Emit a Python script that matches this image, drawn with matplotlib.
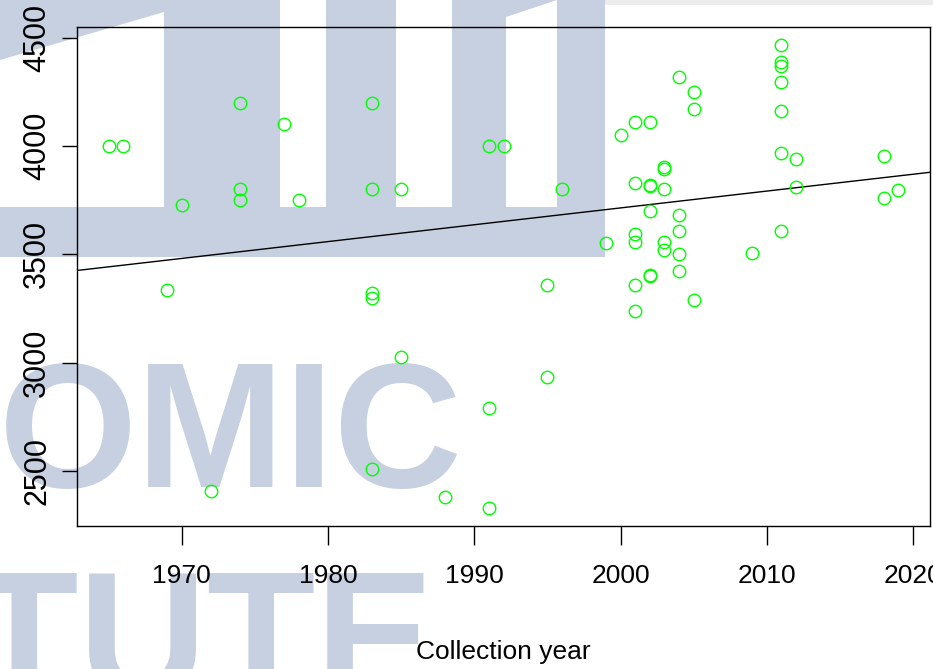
import matplotlib
matplotlib.use("Agg")
import matplotlib.pyplot as plt
from matplotlib.patches import Polygon, Rectangle
import numpy as np

# collection year and value
years = [1965, 1966, 1969, 1970, 1972,
         1974, 1974, 1974, 1977, 1978,
         1983, 1983, 1983, 1983, 1983,
         1985, 1985, 1988, 1991, 1991, 1991, 1992,
         1995, 1995, 1996, 1999, 2000,
         2001, 2001, 2001, 2001, 2001, 2001,
         2002, 2002, 2002, 2002, 2002, 2002,
         2003, 2003, 2003, 2003, 2003,
         2004, 2004, 2004, 2004, 2004,
         2005, 2005, 2005, 2009,
         2011, 2011, 2011, 2011, 2011, 2011, 2011,
         2012, 2012, 2018, 2018, 2019]
values = [4000, 4000, 3335, 3730, 2405,
          4200, 3800, 3750, 4100, 3750,
          4200, 3800, 3320, 3300, 2510,
          3800, 3025, 2380, 4000, 2790, 2330, 4000,
          3360, 2935, 3800, 3550, 4050,
          4110, 3830, 3595, 3555, 3360, 3240,
          4110, 3820, 3815, 3700, 3405, 3400,
          3905, 3895, 3800, 3555, 3520,
          4320, 3680, 3610, 3500, 3425,
          4250, 4170, 3290, 3505,
          4465, 4390, 4370, 4295, 4160, 3970, 3610,
          3940, 3810, 3955, 3760, 3795]

# trend line (abline): value at two years
trend_years = [1970, 2020]
trend_values = [3481, 3870]

x_ticks = [1970, 1980, 1990, 2000, 2010, 2020]
y_ticks = [2500, 3000, 3500, 4000, 4500]

W, H = 933, 669
wm_color = "#c6d0e1"


def px(x, y):
    # pixel position (from top-left) to figure fraction
    return (x / W, 1 - y / H)


def add_poly(fig, pts, color):
    p = Polygon([px(a, b) for a, b in pts], closed=True, transform=fig.transFigure,
                facecolor=color, edgecolor="none", zorder=-5)
    fig.add_artist(p)


def watermark(fig):
    fig.add_artist(Rectangle(px(605, 5), (W - 605) / W, 5 / H, transform=fig.transFigure,
                             facecolor="#ececec", edgecolor="none", zorder=-5))
    add_poly(fig, [(0, 0), (164, 0), (164, 12), (0, 60)], wm_color)
    for x0, x1 in [(164, 280), (326, 396), (452, 506), (557, 605)]:
        add_poly(fig, [(x0, 0), (x1, 0), (x1, 207), (x0, 207)], wm_color)
    add_poly(fig, [(506, 0), (557, 0), (506, 17)], wm_color)
    add_poly(fig, [(0, 207), (605, 207), (605, 257), (0, 257)], wm_color)
    fig.text(*px(-1, 487), "OMIC", fontsize=128, fontweight="bold", color=wm_color,
             family="Liberation Sans", ha="left", va="baseline", zorder=-5)
    fig.text(*px(-30, 696), "TUTE", fontsize=128, fontweight="bold", color=wm_color,
             family="Liberation Sans", ha="left", va="baseline", zorder=-5)


def plot_scatter(x, y):
    fig = plt.figure(figsize=(W / 100, H / 100), dpi=100)
    fig.patch.set_facecolor("white")
    watermark(fig)

    ax = fig.add_axes([77 / W, (H - 526) / H, (930 - 77) / W, (526 - 27) / H])
    ax.patch.set_alpha(0)

    x = np.array(x, dtype=float)
    y = np.array(y, dtype=float)
    ax.plot(x, y, "o", markerfacecolor="none", markeredgecolor="#00ff00",
            markersize=9, markeredgewidth=1.0, zorder=3)

    # 4% padding like base R plots
    xr = x.max() - x.min()
    yr = y.max() - y.min()
    ax.set_xlim(x.min() - 0.04 * xr, x.max() + 0.04 * xr)
    ax.set_ylim(y.min() - 0.04 * yr, y.max() + 0.04 * yr)

    slope = (trend_values[1] - trend_values[0]) / (trend_years[1] - trend_years[0])
    ax.axline((trend_years[0], trend_values[0]), slope=slope, color="black",
              linewidth=1.0, zorder=2)

    for s in ax.spines.values():
        s.set_linewidth(1.0)
        s.set_color("black")

    ax.set_xticks(x_ticks)
    ax.set_xticklabels([str(t) for t in x_ticks], fontsize=19, family="Liberation Sans")
    ax.set_yticks(y_ticks)
    ax.set_yticklabels([str(t) for t in y_ticks], fontsize=22, family="Liberation Sans",
                       rotation=90, va="center")
    ax.tick_params(axis="x", length=13.5, width=1.0, pad=14)
    ax.tick_params(axis="y", length=10.8, width=1.0, pad=7)

    ax.set_xlabel("Collection year", fontsize=19, family="Liberation Sans", labelpad=37)

    fig.savefig("out.png", dpi=100)


if __name__ == "__main__":
    plot_scatter(years, values)
